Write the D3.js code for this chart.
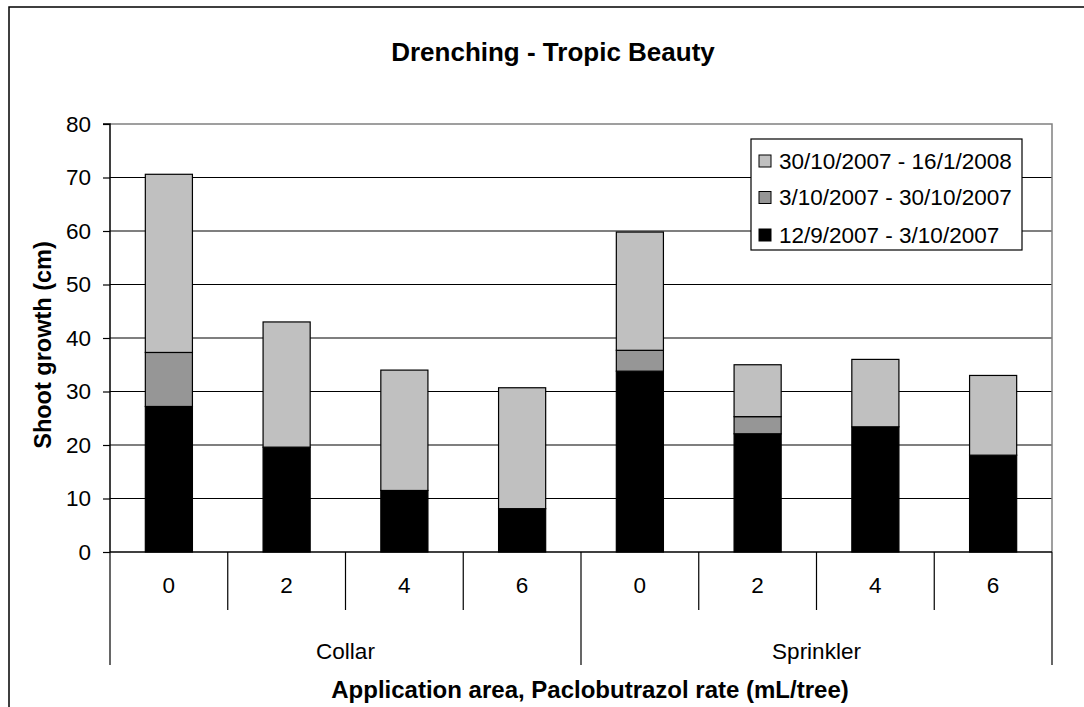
<!DOCTYPE html>
<html><head><meta charset="utf-8">
<script src="https://cdn.jsdelivr.net/npm/d3@7"></script>
<style>
html,body{margin:0;padding:0;background:#fff;}
svg{display:block;font-family:"Liberation Sans",Arial,sans-serif;}
</style></head>
<body>
<svg id="chart" width="1084" height="707"></svg>
<script>
const categories = ["0","2","4","6","0","2","4","6"];
const groups = ["Collar","Collar","Collar","Collar","Sprinkler","Sprinkler","Sprinkler","Sprinkler"];
const groupNames = ["Collar","Sprinkler"];
const seriesNames = ["12/9/2007 - 3/10/2007","3/10/2007 - 30/10/2007","30/10/2007 - 16/1/2008"];
const period1 = [27.2, 19.6, 11.5, 8.1, 33.8, 22.1, 23.4, 18.1];
const period2 = [10.1, 0, 0, 0, 3.9, 3.2, 0, 0];
const period3 = [33.3, 23.4, 22.5, 22.6, 22.1, 9.7, 12.6, 14.9];
const yTicks = [0,10,20,30,40,50,60,70,80];
const colors = ["#000000","#969696","#C0C0C0"];

const svg = d3.select("#chart");
const L = 110, R = 1052, T = 124, B = 552;
const FS = 22.5;

// outer chart border
svg.append("rect").attr("x",9).attr("y",7).attr("width",1100).attr("height",720)
  .attr("fill","none").attr("stroke","#000").attr("stroke-width",1.5);

const idx = d3.range(categories.length);
const x = d3.scaleBand().domain(idx).range([L,R]).paddingInner(0.6).paddingOuter(0.3);
const y = d3.scaleLinear().domain([0,80]).range([B,T]);

// gridlines
svg.append("g").selectAll("line").data(yTicks.filter(d=>d>0 && d<80)).join("line")
  .attr("x1",L).attr("x2",R).attr("y1",d=>y(d)).attr("y2",d=>y(d))
  .attr("stroke","#000").attr("stroke-width",1.2);

// plot border top/right gray
svg.append("path").attr("d",`M${L},${y(80)}H${R}V${B}`).attr("fill","none")
  .attr("stroke","#808080").attr("stroke-width",1.5);

// stacked bars
const rows = idx.map(i=>({i, s0:period1[i], s1:period2[i], s2:period3[i]}));
const stack = d3.stack().keys(["s0","s1","s2"])(rows);
stack.forEach((layer,k)=>{
  svg.append("g").selectAll("rect").data(layer.filter(d=>d[1]-d[0]>0)).join("rect")
    .attr("x",d=>x(d.data.i)).attr("width",x.bandwidth())
    .attr("y",d=>y(d[1])).attr("height",d=>y(d[0])-y(d[1]))
    .attr("fill",colors[k]).attr("stroke","#000").attr("stroke-width",1.2);
});

// y axis
const yAxis = d3.axisLeft(y).tickValues(yTicks).tickSize(7).tickPadding(12);
const gy = svg.append("g").attr("transform",`translate(${L},0)`).call(yAxis);
gy.select(".domain").attr("stroke","#000").attr("stroke-width",1.5).attr("d",`M-7,${T}H0V${B}`);
gy.selectAll(".tick line").attr("stroke","#000").attr("stroke-width",1.2);
gy.selectAll(".tick text").attr("font-size",FS).attr("fill","#000")
  .attr("font-family","'Liberation Sans',Arial,sans-serif");

// x axis baseline
svg.append("line").attr("x1",L).attr("x2",R).attr("y1",B).attr("y2",B)
  .attr("stroke","#000").attr("stroke-width",1.5);

// category separators
const step = x.step();
const bounds = d3.range(categories.length+1).map(i=>L+i*step);
svg.append("g").selectAll("line").data(bounds).join("line")
  .attr("x1",d=>d).attr("x2",d=>d).attr("y1",B)
  .attr("y2",(d,i)=> (i===0||i===categories.length||i===4)?665:610)
  .attr("stroke","#000").attr("stroke-width",1.2);

// category labels
svg.append("g").selectAll("text").data(idx).join("text")
  .attr("x",i=>x(i)+x.bandwidth()/2).attr("y",585).attr("dy","0.35em")
  .attr("text-anchor","middle").attr("font-size",FS).text(i=>categories[i]);

// group labels
groupNames.forEach(g=>{
  const members = idx.filter(i=>groups[i]===g);
  const cx = (L + members[0]*step + L + (members[members.length-1]+1)*step)/2;
  svg.append("text").attr("x",cx).attr("y",651).attr("dy","0.35em")
    .attr("text-anchor","middle").attr("font-size",FS).text(g);
});

// title
svg.append("text").attr("x",553).attr("y",52).attr("dy","0.35em")
  .attr("text-anchor","middle").attr("font-size",26).attr("font-weight","bold")
  .text("Drenching - Tropic Beauty");

// axis titles
svg.append("text").attr("transform",`translate(43,345) rotate(-90)`).attr("dy","0.35em")
  .attr("text-anchor","middle").attr("font-size",23.5).attr("font-weight","bold")
  .text("Shoot growth (cm)");
svg.append("text").attr("x",590).attr("y",690).attr("dy","0.35em")
  .attr("text-anchor","middle").attr("font-size",24).attr("font-weight","bold")
  .text("Application area, Paclobutrazol rate (mL/tree)");

// legend
const lg = svg.append("g");
lg.append("rect").attr("x",751).attr("y",139).attr("width",271).attr("height",111)
  .attr("fill","#fff").attr("stroke","#000").attr("stroke-width",1.2);
const legendOrder = [2,1,0];
const rowY = [161,197.5,235];
legendOrder.forEach((k,j)=>{
  lg.append("rect").attr("x",759).attr("y",rowY[j]-6).attr("width",12).attr("height",12)
    .attr("fill",colors[k]).attr("stroke","#000").attr("stroke-width",1);
  lg.append("text").attr("x",779).attr("y",rowY[j]).attr("dy","0.35em")
    .attr("font-size",FS).text(seriesNames[k]);
});
</script>
</body></html>
